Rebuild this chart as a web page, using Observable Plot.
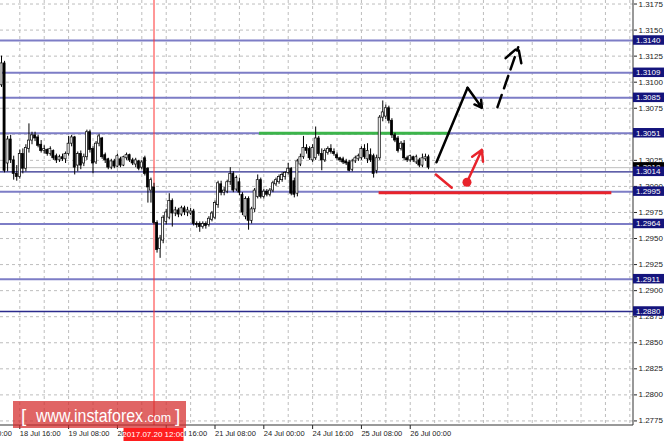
<!DOCTYPE html>
<html><head><meta charset="utf-8">
<script src="https://cdn.jsdelivr.net/npm/d3@7"></script>
<script src="https://cdn.jsdelivr.net/npm/@observablehq/plot@0.6"></script>
<style>
html,body{margin:0;padding:0;background:#fff;}
#chart{width:664px;height:441px;overflow:hidden;}
</style></head><body><div id="chart"></div>
<script>
// ---- data (H1 bars; bar index 0 = 18 Jul 16:00) ----
const firstBar = -6;
const open = [1.3097,1.3118,1.3022,1.3045,1.3025,1.3012,
1.3009,1.3031,1.3017,1.3036,1.3044,1.3049,1.3047,1.3040,1.3034,1.3035,
1.3031,1.3034,1.3029,1.3025,1.3028,1.3026,1.3031,1.3041,1.3047,1.3020,
1.3031,1.3022,1.3028,1.3052,1.3036,1.3023,1.3041,1.3046,1.3030,1.3026,
1.3018,1.3024,1.3019,1.3026,1.3020,1.3027,1.3030,1.3025,1.3021,1.3024,
1.3018,1.3027,1.3017,1.2996,1.2999,1.2965,1.2940,1.2948,1.2966,1.2970,
1.2986,1.2974,1.2977,1.2973,1.2979,1.2975,1.2974,1.2976,1.2964,1.2964,
1.2961,1.2964,1.2963,1.2968,1.2970,1.2982,1.3002,1.2994,1.2995,1.3004,
1.3012,1.2997,1.3004,1.2992,1.2971,1.2988,1.2967,1.2978,1.2990,1.3006,
1.2990,1.2995,1.2992,1.2996,1.3002,1.3004,1.3006,1.3009,1.3013,1.3017,
1.3005,1.2993,1.3021,1.3028,1.3037,1.3036,1.3025,1.3027,1.3046,1.3031,
1.3025,1.3032,1.3036,1.3033,1.3030,1.3027,1.3026,1.3024,1.3023,1.3016,
1.3024,1.3026,1.3027,1.3036,1.3026,1.3030,1.3029,1.3015,1.3027,1.3066,
1.3067,1.3075,1.3063,1.3049,1.3046,1.3036,1.3041,1.3027,1.3025,1.3028,
1.3023,1.3025,1.3020,1.3026,1.3028];
const high = [1.3125,1.3120,1.3048,1.3049,1.3029,1.3020,
1.3035,1.3036,1.3040,1.3060,1.3052,1.3052,1.3049,1.3044,1.3039,1.3036,
1.3038,1.3035,1.3031,1.3030,1.3031,1.3033,1.3048,1.3049,1.3048,1.3033,
1.3034,1.3031,1.3054,1.3054,1.3038,1.3043,1.3050,1.3047,1.3032,1.3027,
1.3026,1.3026,1.3031,1.3028,1.3029,1.3032,1.3031,1.3027,1.3027,1.3025,
1.3025,1.3029,1.3018,1.3008,1.3003,1.2967,1.2953,1.2972,1.2978,1.2993,
1.2988,1.2980,1.2979,1.2981,1.2981,1.2980,1.2979,1.2978,1.2966,1.2966,
1.2966,1.2966,1.2971,1.2976,1.2986,1.3005,1.3005,1.2999,1.3006,1.3018,
1.3014,1.3010,1.3008,1.2994,1.2990,1.2990,1.2980,1.2998,1.3011,1.3008,
1.2997,1.2997,1.2998,1.3005,1.3008,1.3011,1.3013,1.3014,1.3022,1.3018,
1.3008,1.3026,1.3031,1.3048,1.3040,1.3038,1.3040,1.3057,1.3048,1.3036,
1.3036,1.3038,1.3040,1.3036,1.3032,1.3028,1.3028,1.3026,1.3025,1.3026,
1.3029,1.3031,1.3038,1.3040,1.3041,1.3036,1.3031,1.3030,1.3068,1.3082,
1.3078,1.3077,1.3065,1.3051,1.3048,1.3043,1.3044,1.3029,1.3030,1.3029,
1.3030,1.3027,1.3031,1.3031,1.3030];
const low = [1.3095,1.3013,1.3014,1.3022,1.3006,1.3005,
1.3007,1.3012,1.3014,1.3032,1.3040,1.3043,1.3037,1.3032,1.3031,1.3029,
1.3029,1.3025,1.3022,1.3023,1.3024,1.3022,1.3029,1.3038,1.3011,1.3014,
1.3016,1.3019,1.3025,1.3032,1.3012,1.3021,1.3038,1.3026,1.3022,1.3016,
1.3016,1.3017,1.3018,1.3018,1.3019,1.3025,1.3023,1.3020,1.3018,1.3015,
1.3016,1.3010,1.2984,1.2984,1.2963,1.2936,1.2931,1.2945,1.2963,1.2968,
1.2961,1.2971,1.2970,1.2971,1.2972,1.2971,1.2972,1.2962,1.2960,1.2956,
1.2959,1.2959,1.2961,1.2966,1.2968,1.2979,1.2991,1.2991,1.2993,1.3001,
1.2994,1.2995,1.2991,1.2972,1.2968,1.2958,1.2964,1.2975,1.2988,1.2988,
1.2988,1.2990,1.2990,1.2994,1.3000,1.3002,1.3004,1.3006,1.3011,1.2991,
1.2989,1.2990,1.3019,1.3026,1.3031,1.3025,1.3023,1.3025,1.3029,1.3015,
1.3023,1.3030,1.3031,1.3029,1.3025,1.3023,1.3021,1.3020,1.3014,1.3014,
1.3022,1.3024,1.3025,1.3026,1.3022,1.3023,1.3008,1.3012,1.3025,1.3062,
1.3064,1.3060,1.3046,1.3042,1.3032,1.3034,1.3025,1.3023,1.3023,1.3023,
1.3021,1.3018,1.3018,1.3024,1.3016];
const close = [1.3118,1.3015,1.3045,1.3025,1.3012,1.3009,
1.3031,1.3017,1.3037,1.3044,1.3049,1.3046,1.3039,1.3034,1.3036,1.3031,
1.3036,1.3027,1.3025,1.3028,1.3026,1.3031,1.3041,1.3047,1.3018,1.3031,
1.3020,1.3028,1.3052,1.3035,1.3022,1.3041,1.3048,1.3028,1.3025,1.3018,
1.3024,1.3019,1.3029,1.3020,1.3028,1.3030,1.3025,1.3022,1.3025,1.3017,
1.3023,1.3012,1.2999,1.3006,1.2965,1.2939,1.2950,1.2970,1.2975,1.2986,
1.2974,1.2977,1.2973,1.2979,1.2975,1.2977,1.2976,1.2964,1.2963,1.2961,
1.2964,1.2962,1.2969,1.2974,1.2984,1.3003,1.2994,1.2996,1.3004,1.3012,
1.2996,1.3008,1.2994,1.2975,1.2988,1.2967,1.2978,1.2996,1.3006,1.2990,
1.2995,1.2992,1.2996,1.3003,1.3006,1.3009,1.3011,1.3013,1.3017,1.2993,
1.2992,1.3024,1.3028,1.3037,1.3034,1.3027,1.3037,1.3046,1.3031,1.3025,
1.3034,1.3036,1.3033,1.3031,1.3027,1.3025,1.3023,1.3022,1.3015,1.3024,
1.3027,1.3029,1.3036,1.3028,1.3034,1.3025,1.3012,1.3027,1.3066,1.3071,
1.3075,1.3063,1.3049,1.3044,1.3034,1.3041,1.3027,1.3025,1.3029,1.3025,
1.3028,1.3020,1.3027,1.3028,1.3018];

const priceTicks = [1.2775,1.2800,1.2825,1.2850,1.2875,1.2900,1.2925,1.2950,1.2975,1.3000,1.3025,1.3050,1.3075,1.3100,1.3125,1.3150,1.3175];
const timeTickBars = [-16,0,16,32,48,64,80,96,112,128];
const timeTickLabels = ["18 Jul 00:00","18 Jul 16:00","19 Jul 08:00","20 Jul 00:00","20 Jul 16:00","21 Jul 08:00","24 Jul 00:00","24 Jul 16:00","25 Jul 08:00","26 Jul 00:00"];
const gridBars = [-8,0,8,16,24,32,40,48,56,64,72,80,88,96,104,112,120,128,136,144,152,160,168,176,184,192,200];
const levelPrices = [1.3140,1.3109,1.3085,1.3051,1.3014,1.2995,1.2964,1.2911,1.2880];
const levelDark   = [false,false,false,false,true,false,false,false,true];
const markerBar = 44;
const markerLabel = "2017.07.20 12:00";
// annotations (bar index, price)
const greenSegment = [{from:78.6, to:141.2, price:1.3051}];
const redSegment   = [{from:117.8, to:194.1, price:1.2994}];
const blackUp      = [{x1:136.6, y1:1.30232, x2:146.8, y2:1.30946}];
const blackDown    = [{x1:146.8, y1:1.30946, x2:151.5, y2:1.30754}];
const blackDashed  = [{x1:156.6, y1:1.30760, x2:163.4, y2:1.31336}];
const redDip       = [{x1:136.4, y1:1.30114, x2:141.6, y2:1.29987}];
const redDot       = [{x:146.6, y:1.30040}];
const redUp        = [{x1:146.6, y1:1.30040, x2:151.5, y2:1.30351}];

const bars = open.map((o,k)=>({i:firstBar+k, o, h:high[k], l:low[k], c:close[k]}));
const levels = levelPrices.map((p,k)=>({price:p, dark:levelDark[k]}));
const lastClose = close[close.length-1];
const labelOf = new Map(timeTickBars.map((b,k)=>[b,timeTickLabels[k]]));

const chart = Plot.plot({
  width: 664, height: 441,
  marginTop: 0, marginRight: 31, marginBottom: 16, marginLeft: 0,
  style: {fontFamily: "'Liberation Sans', Arial, sans-serif", fontSize: "8px", background: "#fff", overflow: "visible"},
  x: {domain: [-6.328, 201.2]},
  y: {domain: [1.277062, 1.317838]},
  marks: [
    Plot.ruleY(priceTicks, {stroke: "#bdbdbd", strokeDasharray: "3,3"}),
    Plot.ruleX(gridBars, {stroke: "#bdbdbd", strokeDasharray: "3,3"}),
    Plot.ruleY([lastClose], {stroke: "#bfbfbf", strokeWidth: 1}),
    Plot.ruleY(levels, {y: "price", stroke: d => d.dark ? "#2b2b8c" : "#7d7dc6", strokeWidth: d => d.dark ? 1.4 : 2}),
    Plot.ruleX([markerBar], {stroke: "#ff3030", strokeWidth: 1}),
    Plot.ruleY(greenSegment, {y: "price", x1: "from", x2: "to", stroke: "#3cb54a", strokeWidth: 3}),
    Plot.ruleY(redSegment, {y: "price", x1: "from", x2: "to", stroke: "#e8232b", strokeWidth: 3}),
    Plot.ruleX(bars, {x: "i", y1: d => Math.min(d.l, d.o, d.c), y2: d => Math.max(d.h, d.o, d.c), stroke: "#000", strokeWidth: 1}),
    Plot.rect(bars, {x1: d => d.i - 0.34, x2: d => d.i + 0.34, y1: d => Math.min(d.o, d.c), y2: d => Math.max(d.o, d.c),
      fill: d => d.c >= d.o ? "#ffffff" : "#000000", stroke: "#000", strokeWidth: 0.7}),
    Plot.line(blackUp.flatMap(d=>[{x:d.x1,y:d.y1},{x:d.x2,y:d.y2}]), {x:"x", y:"y", stroke:"#000", strokeWidth:2.5}),
    Plot.arrow(blackDown, {x1:"x1", y1:"y1", x2:"x2", y2:"y2", stroke:"#000", strokeWidth:2.5, headLength:10}),
    Plot.arrow(blackDashed, {x1:"x1", y1:"y1", x2:"x2", y2:"y2", stroke:"#000", strokeWidth:2.5, headLength:10, strokeDasharray:"13,7"}),
    Plot.line(redDip.flatMap(d=>[{x:d.x1,y:d.y1},{x:d.x2,y:d.y2}]), {x:"x", y:"y", stroke:"#e8232b", strokeWidth:2.5}),
    Plot.arrow(redUp, {x1:"x1", y1:"y1", x2:"x2", y2:"y2", stroke:"#e8232b", strokeWidth:2.5, headLength:10}),
    Plot.dot(redDot, {x:"x", y:"y", r:4.5, fill:"#e8232b"}),
    Plot.axisY(priceTicks, {anchor:"right", tickSize:3, tickPadding:2, tickFormat: d => d.toFixed(4), fontSize: 8, color:"#222"}),
    Plot.axisX(timeTickBars, {anchor:"bottom", tickSize:4, tickPadding:1, tickFormat: d => labelOf.get(d), textAnchor:"start", dx:0, fontSize: 7.5, color:"#222"})
  ]
});

const svg = d3.select(chart);
const X = chart.scale("x"), Y = chart.scale("y");
const right = X.range[1], bottom = Y.range[0];
const txt = (g, x, y, s, size, anchor) => g.append("text").attr("x", x).attr("y", y)
  .attr("text-anchor", anchor || "start").attr("fill", "#fff").attr("font-size", size).text(s);
// axis lines
svg.append("line").attr("x1", right).attr("x2", right).attr("y1", 0).attr("y2", bottom).attr("stroke", "#333");
svg.append("line").attr("x1", 0).attr("x2", right).attr("y1", bottom).attr("y2", bottom).attr("stroke", "#333");
// bid label
svg.append("rect").attr("x", right).attr("y", Y.apply(lastClose) - 5).attr("width", 31).attr("height", 10).attr("fill", "#000");
txt(svg, right + 3, Y.apply(lastClose) + 3, lastClose.toFixed(4), 8);
// level labels
for (const lv of levels) {
  const y = Y.apply(lv.price);
  svg.append("rect").attr("x", right).attr("y", y - 4.75).attr("width", 31).attr("height", 9.5).attr("fill", "#14147c");
  txt(svg, right + 3, y + 3, lv.price.toFixed(4), 8);
}
// marker date label
const mx = X.apply(markerBar);
svg.append("rect").attr("x", mx - 30).attr("y", 428).attr("width", 60).attr("height", 13).attr("fill", "#ff1e1e");
txt(svg, mx, 437, markerLabel, 8, "middle");
// watermark
const wm = svg.append("g").attr("font-family", "'Liberation Sans', Arial, sans-serif");
wm.append("rect").attr("x", 13).attr("y", 401).attr("width", 173).attr("height", 27).attr("fill", "rgba(212,42,42,0.72)");
txt(wm, 21, 422, "[", 19);
txt(wm, 36, 421.5, "www.instaforex", 18).attr("textLength", 107).attr("lengthAdjust", "spacingAndGlyphs");
txt(wm, 144, 421.5, ".com", 12.5);
txt(wm, 175, 422, "]", 19);

document.getElementById("chart").append(chart);
</script>
</body></html>
